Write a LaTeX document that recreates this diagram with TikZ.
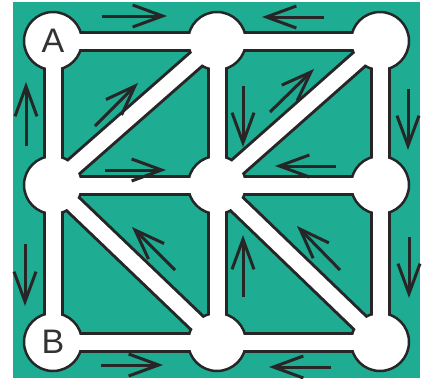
\documentclass[tikz,border=0pt]{standalone}
\usepackage{fontspec}
\setmainfont{Liberation Sans}
\usetikzlibrary{arrows.meta}

\definecolor{pool}{RGB}{30,172,146}

\tikzset{
  joint/.style={circle, fill=white, draw=black!85, line width=2.5pt,
    minimum size=58pt, inner sep=0pt},
  rim/.style={line width=21pt, draw=black!85},
  band/.style={line width=15pt, draw=white},
  flow/.style={line width=3pt, draw=black!85,
    -{Straight Barb[length=30pt,width=22pt]}},
  letter/.style={font=\fontsize{34}{34}\selectfont, text=black!80}
}

\begin{document}
\begin{tikzpicture}[x = 1pt, y = -1pt]

  \useasboundingbox (0,0) rectangle (422,378);

  % background
  \fill[pool] (13,2) rectangle (420,378);

  % grid points
  \foreach \r/\yy in {1/41,2/185,3/342}
  \foreach \c/\xx in {1/53,2/217,3/380}
  \coordinate (p\r\c) at (\xx,\yy);

  \def\links{11/12,12/13,21/22,22/23,31/32,32/33,
    11/21,21/31,12/22,22/32,13/23,23/33,
    21/12,22/13,21/32,22/33}

  % black rims of the bands
  \foreach \a/\b in \links
  \draw[rim] (p\a) -- (p\b);

  % junctions
  \foreach \r in {1,2,3}
  \foreach \c in {1,2,3}
  \node[joint] (n\r\c) at (p\r\c) {};

  % white bands
  \foreach \a/\b in \links
  \draw[band] (n\a.center) -- (n\b.center);

  % labels
  \node[letter] (lA) at (n11) {A};
  \node[letter] (lB) at (n31) {B};

  % outer arrows
  \draw[flow] (102,16) -- (167,16);
  \draw[flow] (324,17) -- (262,17);
  \draw[flow] (26,146) -- (26,82);
  \draw[flow] (25,244) -- (25,306);
  \draw[flow] (408,89) -- (408,150);
  \draw[flow] (409,237) -- (409,298);
  \draw[flow] (101,365) -- (163,365);
  \draw[flow] (331,367) -- (269,367);

  % inner arrows
  \draw[flow] (95,126) -- (138,83);
  \draw[flow] (105,170) -- (166,170);
  \draw[flow] (243,86) -- (243,147);
  \draw[flow] (270,112) -- (314,69);
  \draw[flow] (336,166) -- (275,166);
  \draw[flow] (175,270) -- (132,227);
  \draw[flow] (243,297) -- (243,235);
  \draw[flow] (340,270) -- (297,226);

\end{tikzpicture}
\end{document}
